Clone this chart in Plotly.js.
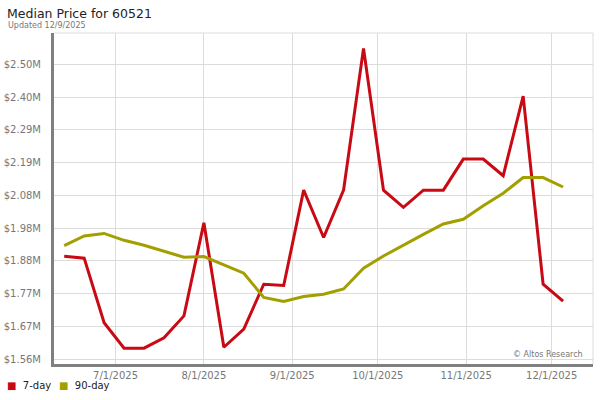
<!DOCTYPE html>
<html>
<head>
<meta charset="utf-8">
<script src="https://cdn.plot.ly/plotly-3.0.1.min.js"></script>
<style>html,body{margin:0;padding:0;background:#fff;}#chart{width:600px;height:400px;}</style>
</head>
<body>
<div id="chart"></div>
<script>
const dates = ['2025-06-13','2025-06-20','2025-06-27','2025-07-04','2025-07-11','2025-07-18','2025-07-25',
  '2025-08-01','2025-08-08','2025-08-15','2025-08-22','2025-08-29','2025-09-05','2025-09-12','2025-09-19',
  '2025-09-26','2025-10-03','2025-10-10','2025-10-17','2025-10-24','2025-10-31','2025-11-07','2025-11-14',
  '2025-11-21','2025-11-28','2025-12-05'];
const sevenDay = [1.890,1.884,1.678,1.597,1.597,1.630,1.700,1.997,1.600,1.658,1.801,1.797,2.101,1.950,2.101,
  2.553,2.101,2.046,2.101,2.101,2.200,2.200,2.147,2.401,1.801,1.747];
const ninetyDay = [1.924,1.955,1.963,1.941,1.925,1.907,1.887,1.889,1.863,1.836,1.759,1.746,1.762,1.769,1.786,
  1.852,1.891,1.926,1.960,1.993,2.008,2.051,2.091,2.141,2.141,2.111];
const yTickVals = [1.5625,1.6669,1.7713,1.8757,1.9801,2.0845,2.1889,2.2933,2.3977,2.5021];
const yTickText = ['$1.56M','$1.67M','$1.77M','$1.88M','$1.98M','$2.08M','$2.19M','$2.29M','$2.40M','$2.50M'];
const xTickVals = ['2025-07-01','2025-08-01','2025-09-01','2025-10-01','2025-11-01','2025-12-01'];
const xTickText = ['7/1/2025','8/1/2025','9/1/2025','10/1/2025','11/1/2025','12/1/2025'];
const seriesNames = ['7-day','90-day'];
const colors = ['#c80a14','#a39f00'];

const font = 'DejaVu Sans, Verdana, sans-serif';
const traces = [
  {x: dates, y: sevenDay, name: seriesNames[0], type: 'scatter', mode: 'lines',
   line: {color: colors[0], width: 3}},
  {x: dates, y: ninetyDay, name: seriesNames[1], type: 'scatter', mode: 'lines',
   line: {color: colors[1], width: 3}}
];
const layout = {
  width: 600, height: 400,
  margin: {l: 54, r: 7, t: 33, b: 36},
  paper_bgcolor: '#fff', plot_bgcolor: '#fff',
  showlegend: false,
  font: {family: font, size: 10, color: '#777'},
  xaxis: {
    type: 'date', range: ['2025-06-09 10:00','2025-12-15 12:00'],
    tickvals: xTickVals, ticktext: xTickText,
    showgrid: true, gridcolor: '#dcdcdc', gridwidth: 1,
    showline: true, linecolor: '#808080', linewidth: 3,
    ticks: '', tickfont: {size: 10, color: '#777', family: font},
    zeroline: false, fixedrange: true
  },
  yaxis: {
    range: [1.5466, 2.602],
    tickvals: yTickVals, ticktext: yTickText,
    showgrid: true, gridcolor: '#dcdcdc', gridwidth: 1,
    showline: true, linecolor: '#808080', linewidth: 3,
    ticks: '', ticklabelstandoff: 8, tickfont: {size: 10, color: '#777', family: font},
    zeroline: false, fixedrange: true
  },
  shapes: [
    {type: 'line', xref: 'paper', yref: 'paper', x0: 0, x1: 1, y0: 1, y1: 1, line: {color: '#dcdcdc', width: 1}},
    {type: 'line', xref: 'paper', yref: 'paper', x0: 1, x1: 1, y0: 0, y1: 1, line: {color: '#dcdcdc', width: 1}}
  ],
  annotations: [
    {text: 'Median Price for 60521', xref: 'paper', yref: 'paper', x: -0.09, y: 1.06,
     xanchor: 'left', yanchor: 'middle', showarrow: false, font: {family: font, size: 12.5, color: '#222'}},
    {text: 'Updated 12/9/2025', xref: 'paper', yref: 'paper', x: -0.089, y: 1.024,
     xanchor: 'left', yanchor: 'middle', showarrow: false, font: {family: font, size: 8, color: '#777'}},
    {text: '© Altos Research', xref: 'paper', yref: 'paper', x: 0.985, y: 0.03,
     xanchor: 'right', yanchor: 'middle', showarrow: false, font: {family: font, size: 8, color: '#777'}},
    {text: '<span style="color:' + colors[0] + '">■</span>  ' + seriesNames[0], xref: 'paper', yref: 'paper',
     x: -0.09, y: -0.066, xanchor: 'left', yanchor: 'middle', showarrow: false, font: {family: font, size: 10, color: '#222'}},
    {text: '<span style="color:' + colors[1] + '">■</span>  ' + seriesNames[1], xref: 'paper', yref: 'paper',
     x: 0.005, y: -0.066, xanchor: 'left', yanchor: 'middle', showarrow: false, font: {family: font, size: 10, color: '#222'}}
  ]
};
Plotly.newPlot('chart', traces, layout, {displayModeBar: false, staticPlot: true});
</script>
</body>
</html>
